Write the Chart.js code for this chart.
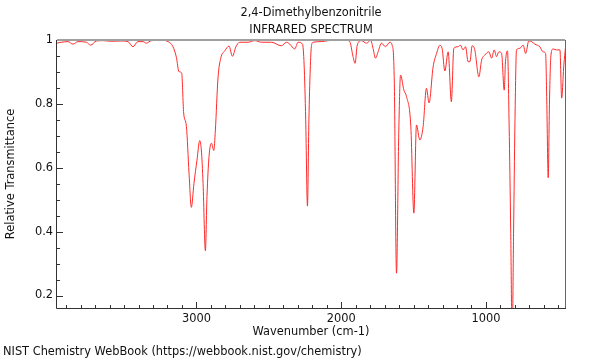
<!DOCTYPE html>
<html>
<head>
<meta charset="utf-8">
<title>2,4-Dimethylbenzonitrile - IR spectrum</title>
<script src="https://cdn.jsdelivr.net/npm/chart.js@4.4.1/dist/chart.umd.min.js"></script>
<style>
  body { margin: 0; background: #fff; }
  canvas { display: block; }
</style>
</head>
<body>
<canvas id="ir-chart" width="600" height="360"></canvas>
<script>
// values (cm-1, relative transmittance)
const wavenumbers = [
  3968, 3933, 3887, 3853, 3818, 3760, 3731, 3691, 3646, 3587,
  3518, 3473, 3438, 3404, 3369, 3346, 3311, 3242, 3196, 3162,
  3138, 3121, 3102, 3088, 3069, 3051, 3035, 3017, 2996, 2977,
  2966, 2954, 2938, 2927, 2913, 2896, 2880, 2869, 2851, 2832,
  2804, 2775, 2751, 2728, 2701, 2643, 2597, 2551, 2482, 2413,
  2378, 2355, 2321, 2298, 2267, 2256, 2245, 2233, 2223, 2214,
  2205, 2194, 2136, 2056, 1975, 1941, 1918, 1904, 1889, 1860,
  1825, 1796, 1780, 1763, 1745, 1722, 1694, 1664, 1648, 1633,
  1618, 1602, 1590, 1567, 1549, 1519, 1498, 1480, 1457, 1434,
  1411, 1393, 1365, 1341, 1319, 1303, 1284, 1261, 1239, 1222,
  1192, 1177, 1158, 1141, 1123, 1111, 1095, 1077, 1049, 1030,
  1008, 980, 961, 943, 927, 911, 892, 874, 865, 851,
  840, 829, 819, 809, 800, 789, 766, 743, 726, 704,
  685, 662, 628, 605, 588, 580, 570, 561, 551, 536,
  512, 489, 477, 462, 450
];
const transmittance = [
  0.990, 0.993, 0.995, 0.987, 0.995, 0.993, 0.984, 0.997, 0.998, 0.996,
  0.997, 0.995, 0.979, 0.995, 0.995, 0.990, 0.998, 0.999, 0.995, 0.979,
  0.945, 0.901, 0.897, 0.771, 0.729, 0.583, 0.476, 0.551, 0.624, 0.685,
  0.656, 0.551, 0.340, 0.510, 0.635, 0.677, 0.654, 0.718, 0.881, 0.943,
  0.966, 0.981, 0.949, 0.978, 0.993, 0.993, 0.998, 0.993, 0.993, 0.982,
  0.993, 0.987, 0.972, 0.993, 0.987, 0.922, 0.750, 0.480, 0.750, 0.906,
  0.983, 0.993, 0.995, 1.000, 1.000, 0.995, 0.948, 0.927, 0.984, 0.998,
  0.990, 0.999, 0.974, 0.943, 0.963, 0.990, 0.979, 0.993, 0.984, 0.865,
  0.270, 0.718, 0.890, 0.843, 0.823, 0.729, 0.458, 0.734, 0.687, 0.729,
  0.849, 0.803, 0.916, 0.958, 0.983, 0.974, 0.903, 0.963, 0.807, 0.974,
  0.979, 0.984, 0.969, 0.979, 0.932, 0.932, 0.982, 0.969, 0.885, 0.937,
  0.953, 0.963, 0.943, 0.969, 0.948, 0.963, 0.958, 0.843, 0.932, 0.966,
  0.734, 0.405, 0.060, 0.405, 0.734, 0.969, 0.974, 0.984, 0.958, 0.997,
  0.995, 0.987, 0.979, 0.963, 0.958, 0.812, 0.569, 0.812, 0.953, 0.972,
  0.969, 0.969, 0.818, 0.922, 0.979
];
const xTickLabels = [3000, 2000, 1000];
const yTickLabels = [0.2, 0.4, 0.6, 0.8, 1];

const titleLines = ['2,4-Dimethylbenzonitrile', 'INFRARED SPECTRUM'];
const footerText = 'NIST Chemistry WebBook (https://webbook.nist.gov/chemistry)';

const FONT = { family: '"DejaVu Sans", sans-serif', size: 11.4 };
const TEXT = '#111';

const spectrum = wavenumbers.map((wn, i) => ({ x: wn, y: transmittance[i] }));

// frame, inward tick marks, titles and footer
const decorations = {
  id: 'decorations',
  afterDraw(chart) {
    const { ctx, chartArea: a, scales: { x, y } } = chart;
    ctx.save();

    ctx.strokeStyle = '#333';
    ctx.lineWidth = 1;
    ctx.beginPath();
    for (let wn = 500; wn <= 3900; wn += 100) {
      const px = Math.round(x.getPixelForValue(wn)) + 0.5;
      const len = wn % 1000 === 0 ? 6 : 3;
      ctx.moveTo(px, a.bottom);
      ctx.lineTo(px, a.bottom - len);
    }
    for (let k = 4; k <= 20; k++) {
      const py = Math.round(y.getPixelForValue(k * 0.05)) + 0.5;
      const len = k % 4 === 0 ? 6 : 3;
      ctx.moveTo(a.left, py);
      ctx.lineTo(a.left + len, py);
    }
    ctx.stroke();

    ctx.strokeStyle = '#a0a0a0';
    ctx.lineWidth = 2;
    ctx.beginPath();
    ctx.moveTo(a.left, a.top);
    ctx.lineTo(a.right, a.top);
    ctx.stroke();

    ctx.strokeStyle = '#666';
    ctx.lineWidth = 1;
    ctx.beginPath();
    ctx.moveTo(a.right + 0.5, a.top);
    ctx.lineTo(a.right + 0.5, a.bottom);
    ctx.stroke();

    ctx.strokeStyle = '#333';
    ctx.beginPath();
    ctx.moveTo(a.left - 0.5, a.top);
    ctx.lineTo(a.left - 0.5, a.bottom + 0.5);
    ctx.lineTo(a.right + 1, a.bottom + 0.5);
    ctx.stroke();

    ctx.fillStyle = TEXT;
    ctx.font = `${FONT.size}px ${FONT.family}`;
    ctx.textBaseline = 'middle';
    ctx.textAlign = 'center';
    const cx = (a.left + a.right) / 2;
    ctx.fillText(titleLines[0], cx, 13);
    ctx.fillText(titleLines[1], cx, 30);
    ctx.textAlign = 'left';
    ctx.fillText(footerText, 3, 352);
    ctx.restore();
  }
};

new Chart(document.getElementById('ir-chart'), {
  type: 'line',
  data: {
    datasets: [
      {
        data: spectrum,
        borderColor: '#ff2a2a',
        borderWidth: 1,
        pointRadius: 0,
        cubicInterpolationMode: 'monotone',
        fill: false,
      },
    ],
  },
  options: {
    responsive: false,
    animation: false,
    devicePixelRatio: 1,
    layout: { padding: { top: 40, right: 35, left: 0, bottom: 0 } },
    plugins: {
      legend: { display: false },
      tooltip: { enabled: false },
    },
    scales: {
      x: {
        type: 'linear',
        reverse: true,
        min: 454,
        max: 3963,
        afterBuildTicks: scale => {
          scale.ticks = xTickLabels.map(v => ({ value: v }));
        },
        afterFit: scale => {
          scale.height = 52;
        },
        grid: { display: false, drawTicks: false },
        border: { display: false },
        ticks: {
          padding: 4,
          font: FONT,
          color: TEXT,
          maxRotation: 0,
          autoSkip: false,
          callback: v => String(v),
        },
        title: {
          display: true,
          text: 'Wavenumber (cm-1)',
          font: FONT,
          color: TEXT,
          padding: { top: 0, bottom: 21 },
        },
      },
      y: {
        type: 'linear',
        min: 0.161,
        max: 1,
        afterBuildTicks: scale => {
          scale.ticks = yTickLabels.map(v => ({ value: v }));
        },
        afterFit: scale => {
          scale.width = 57;
        },
        grid: { display: false, drawTicks: false },
        border: { display: false },
        ticks: {
          padding: 4,
          font: FONT,
          color: TEXT,
          callback: v => String(v),
        },
        title: {
          display: true,
          text: 'Relative Transmittance',
          font: FONT,
          color: TEXT,
          padding: { top: 4, bottom: 0 },
        },
      },
    },
  },
  plugins: [decorations],
});
</script>
</body>
</html>
